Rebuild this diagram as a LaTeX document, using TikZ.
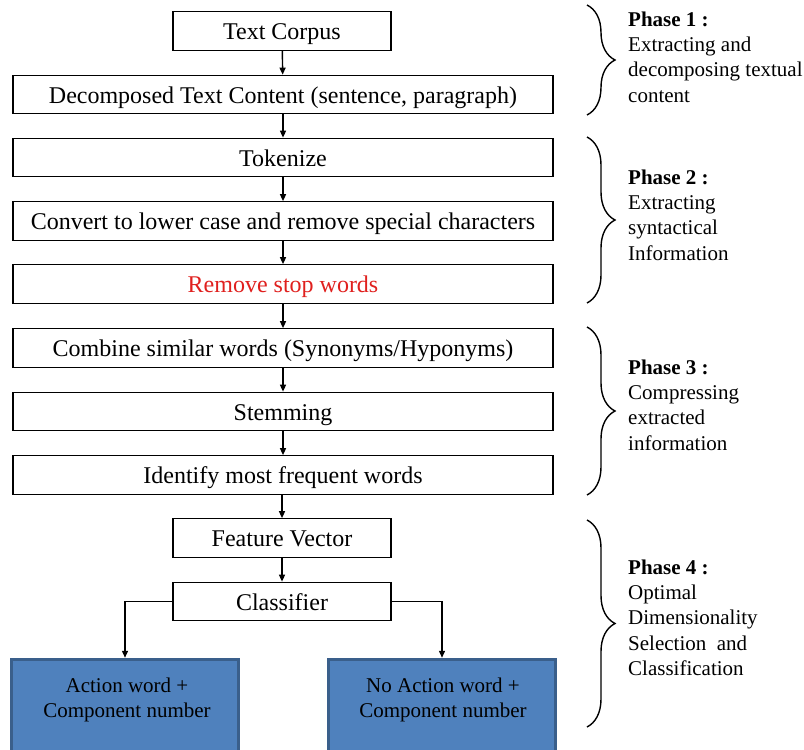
\documentclass[tikz,border=0pt]{standalone}
\usepackage{fontspec}
\setmainfont{Liberation Serif}
\usetikzlibrary{arrows.meta,decorations.pathreplacing}
\definecolor{bluefill}{HTML}{4F81BD}
\definecolor{blueedge}{HTML}{3A5F8B}
\definecolor{redtext}{HTML}{E0201E}
\begin{document}
\begin{tikzpicture}[x=1pt,y=-1pt,
  procbox/.style={draw=black,line width=1.2pt,fill=white,minimum height=38.5pt,inner sep=0pt,text height=21pt,text depth=4pt,font=\fontsize{24}{26}\selectfont},
  widebox/.style={procbox,minimum width=540pt},
  smallbox/.style={procbox,minimum width=218pt},
  outbox/.style={draw=blueedge,line width=3.5pt,fill=bluefill,minimum width=227pt,minimum height=101pt,inner sep=0pt},
  outtext/.style={align=center,font=\fontsize{21}{25}\selectfont,inner sep=0pt},
  conn/.style={line width=1.4pt,-{Triangle[length=7pt,width=6pt]}},
  phasebrace/.style={decorate,decoration={brace,amplitude=28pt},line width=1.4pt},
  phasetext/.style={anchor=north west,align=left,inner sep=0pt,font=\fontsize{21}{25.3}\selectfont}
]
\useasboundingbox (0,0) rectangle (804,750);
% main chain
\node[smallbox] (corpus) at (282,31) {Text Corpus};
\node[widebox] (decomp) at (283,94.5) {Decomposed Text Content (sentence, paragraph)};
\node[widebox] (token) at (283,157.5) {Tokenize};
\node[widebox] (lower) at (283,221) {Convert to lower case and remove special characters};
\node[widebox,text=redtext] (stop) at (283,284) {Remove stop words};
\node[widebox] (combine) at (283,348) {Combine similar words (Synonyms/Hyponyms)};
\node[widebox] (stem) at (283,411.5) {Stemming};
\node[widebox] (freq) at (283,475) {Identify most frequent words};
\node[smallbox] (feat) at (282,538) {Feature Vector};
\node[smallbox] (cls) at (282,601.5) {Classifier};
% outputs
\node[outbox] (act) at (125,710) {};
\node[outtext] (acttext) at (127,700) {Action word +\\Component number};
\node[outbox] (noact) at (442,710) {};
\node[outtext] (noacttext) at (443,700) {No Action word +\\Component number};
% connectors
\draw[conn] (corpus) -- (decomp);
\draw[conn] (decomp) -- (token);
\draw[conn] (token) -- (lower);
\draw[conn] (lower) -- (stop);
\draw[conn] (stop) -- (combine);
\draw[conn] (combine) -- (stem);
\draw[conn] (stem) -- (freq);
\draw[conn] (freq.south -| feat) -- (feat);
\draw[conn] (feat) -- (cls);
\draw[conn] (cls.west) -| (act.north);
\draw[conn] (cls.east) -| (noact.north);
% braces
\coordinate (b1t) at (587,5);   \coordinate (b1b) at (587,115);
\coordinate (b2t) at (587,137); \coordinate (b2b) at (587,303);
\coordinate (b3t) at (587,327); \coordinate (b3b) at (587,495);
\coordinate (b4t) at (587,520); \coordinate (b4b) at (587,727);
\draw[phasebrace] (b1t) -- (b1b);
\draw[phasebrace] (b2t) -- (b2b);
\draw[phasebrace] (b3t) -- (b3b);
\draw[phasebrace] (b4t) -- (b4b);
% phase texts
\node[phasetext] (p1) at (628,11.5) {\textbf{Phase 1 :}\\Extracting and\\decomposing textual\\content};
\node[phasetext] (p2) at (628,169.5) {\textbf{Phase 2 :}\\Extracting\\syntactical\\Information};
\node[phasetext] (p3) at (628,359.5) {\textbf{Phase 3 :}\\Compressing\\extracted\\information};
\node[phasetext] (p4) at (628,559.5) {\textbf{Phase 4 :}\\Optimal\\Dimensionality\\Selection\ \ and\\Classification};
\end{tikzpicture}
\end{document}
